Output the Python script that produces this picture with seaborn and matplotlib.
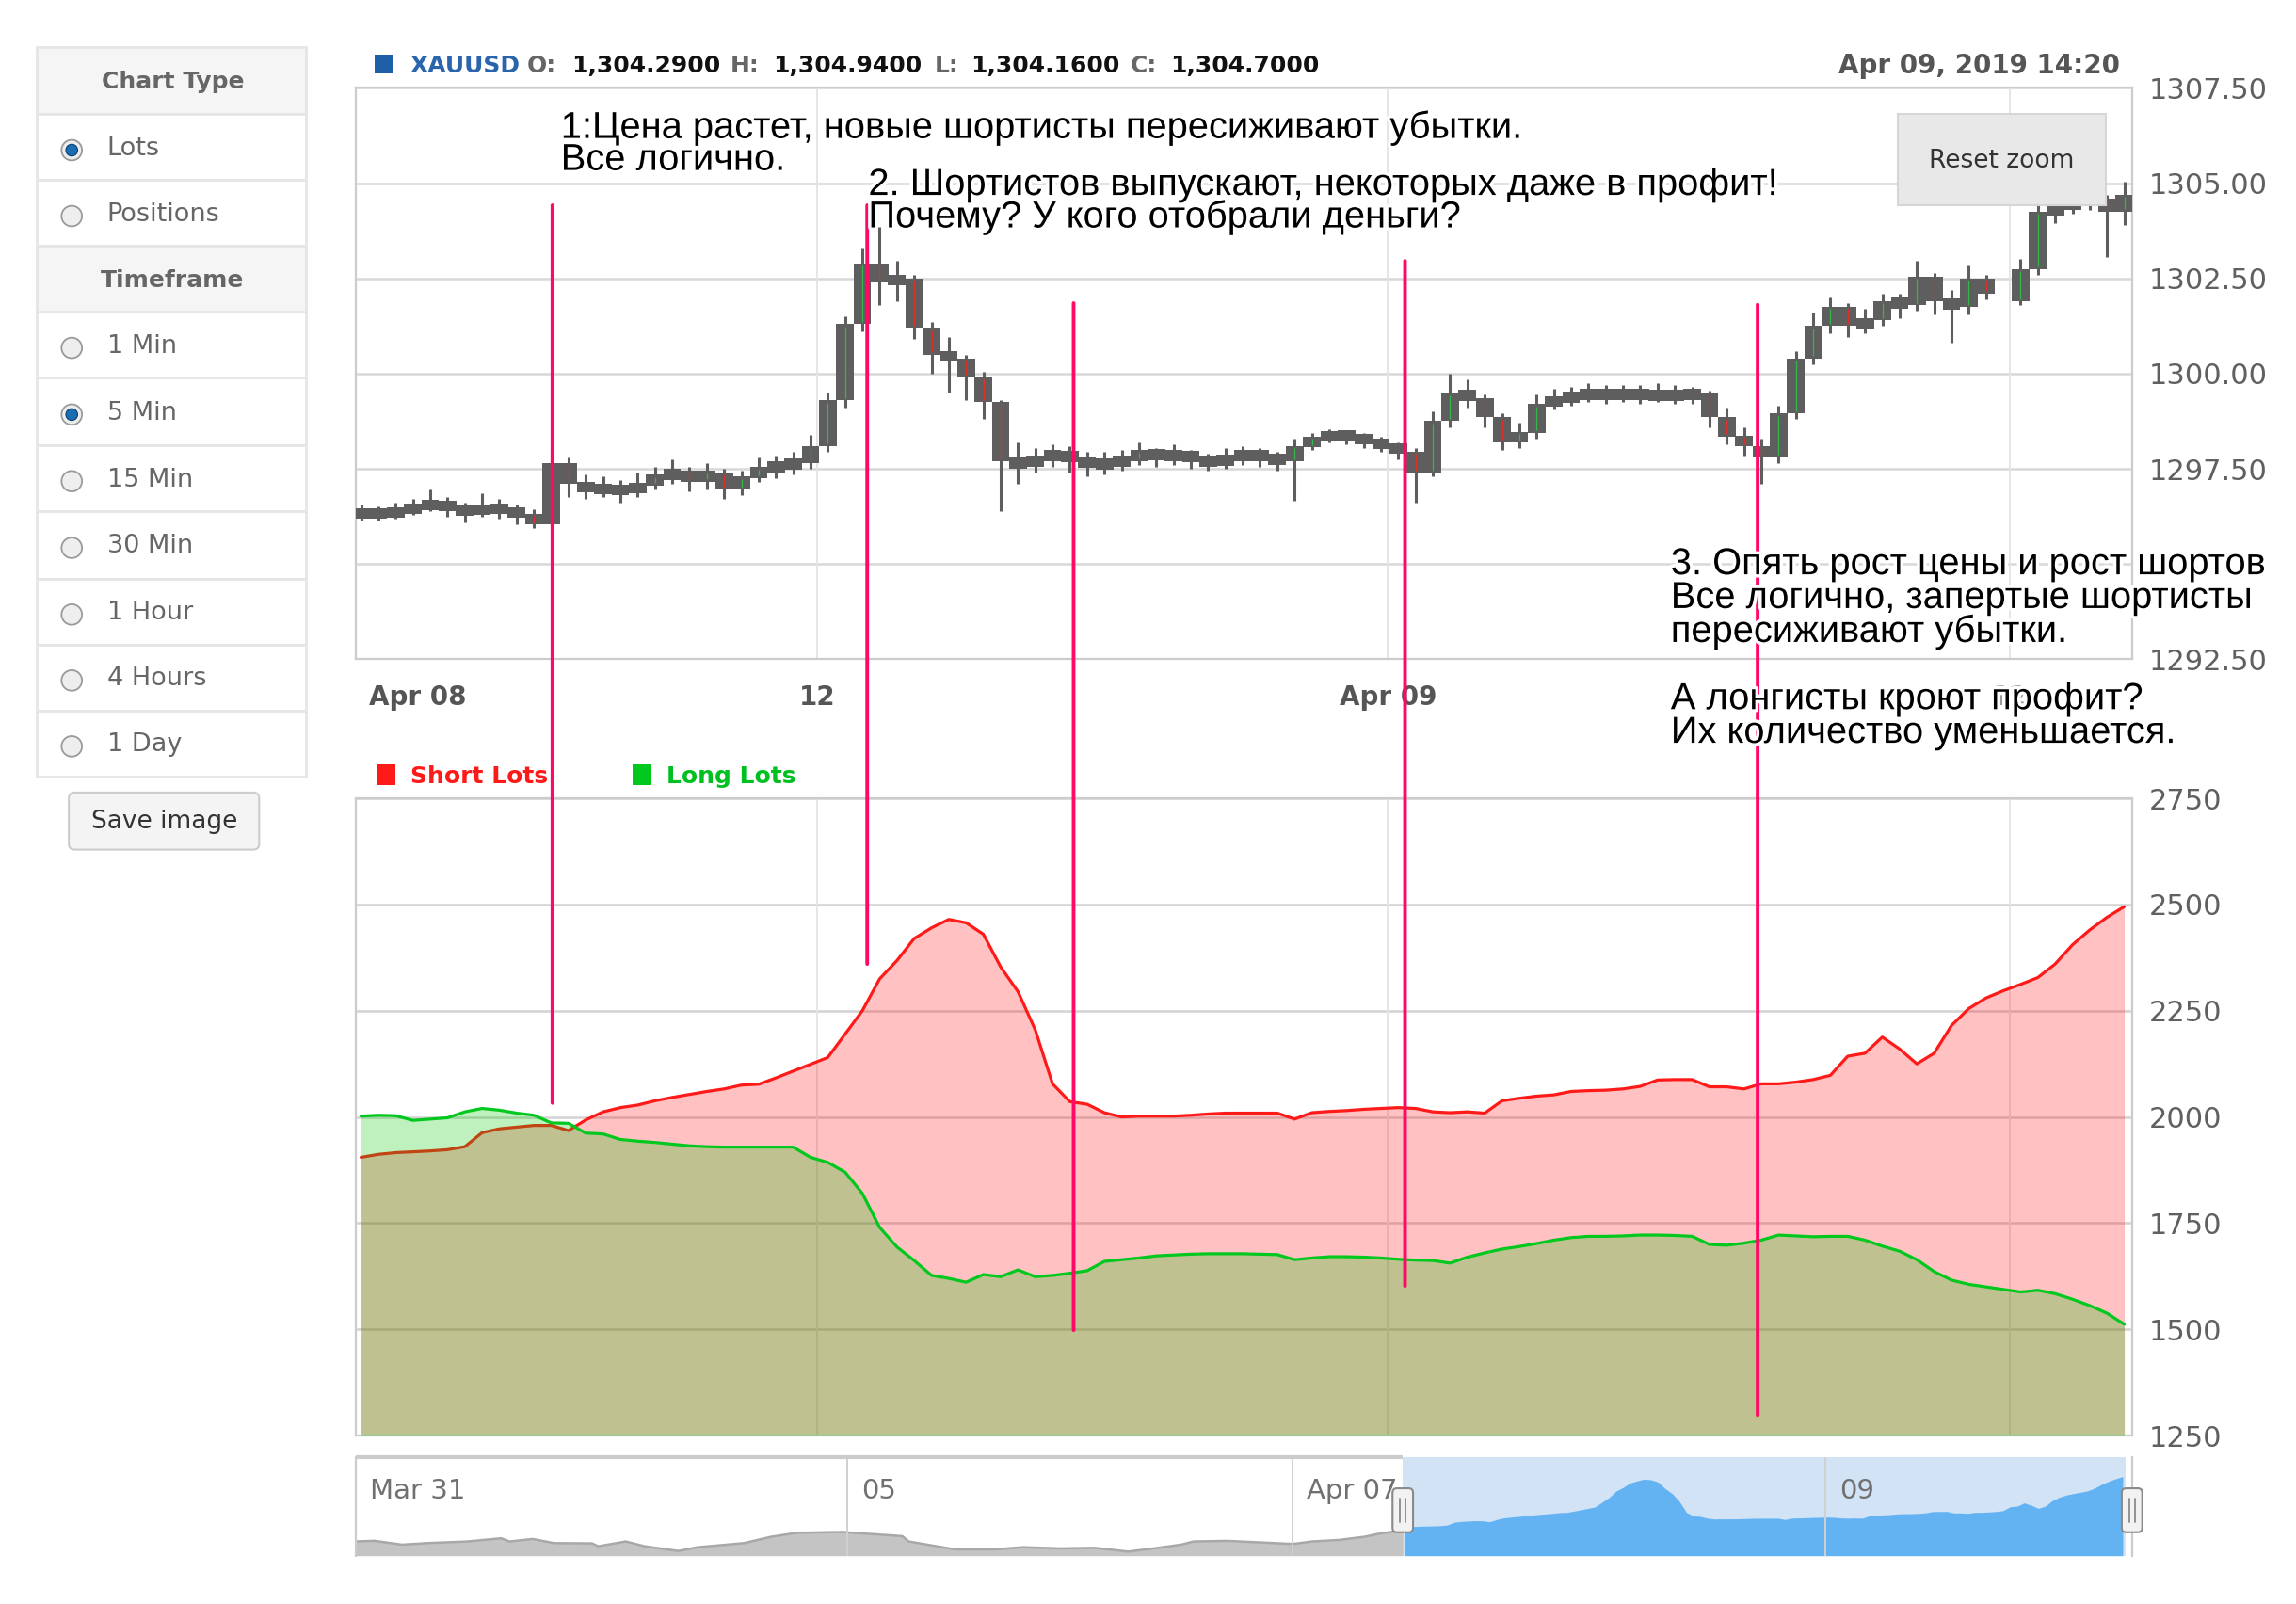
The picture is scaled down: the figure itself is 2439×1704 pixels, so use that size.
import numpy as np
import pandas as pd
import matplotlib.pyplot as plt
import matplotlib.patches as mpatches
import matplotlib.patheffects as pe
import matplotlib.transforms as mtransforms
import seaborn as sns

sns.set_style('white')
plt.rcParams['font.family'] = ['DejaVu Sans']
note_font = ['Liberation Sans', 'DejaVu Sans']
nan = np.nan

# ---- XAUUSD 20 min bars, Apr 08 03:06 -> Apr 09 14:20 (trading hours since Apr 08 00:00)
bar_open = [
    1296.30, 1296.35, 1296.30, 1296.40, 1296.50, 1296.60, 1296.45, 1296.35, 1296.50, 1296.40,
    1296.30, 1296.05, 1297.65, 1297.10, 1296.95, 1297.00, 1296.90, 1297.10, 1297.30, 1297.40,
    1297.20, 1297.40, 1296.95, 1297.30, 1297.50, 1297.60, 1297.65, 1298.10, 1299.30, 1301.30,
    1302.90, 1302.40, 1302.50, 1301.20, 1300.50, 1300.40, 1299.90, 1299.25, 1297.70, 1297.60,
    1297.80, 1297.90, 1297.75, 1297.60, 1297.65, 1297.75, 1297.95, 1297.80, 1297.90, 1297.75,
    1297.65, 1297.80, 1297.90, 1297.80, 1297.70, 1298.10, 1298.30, 1298.40, 1298.35, 1298.20,
    1298.10, 1297.95, 1297.40, 1298.75, 1299.50, 1299.35, 1298.85, 1298.20, 1298.45, 1299.20,
    1299.35, 1299.40, 1299.50, 1299.40, 1299.50, 1299.40, 1299.45, 1299.40, 1299.50, 1298.85,
    1298.35, 1298.10, 1297.80, 1298.95, 1300.40, 1301.25, 1301.75, 1301.25, 1301.40, 1301.90,
    1301.80, 1302.55, 1301.90, 1301.75, 1302.50, nan, 1301.90, 1302.75, 1304.25, 1304.35,
    1304.50, 1304.60, 1304.25]
bar_high = [
    1296.55, 1296.50, 1296.60, 1296.70, 1296.95, 1296.75, 1296.60, 1296.85, 1296.70, 1296.55,
    1296.45, 1297.95, 1297.80, 1297.35, 1297.30, 1297.20, 1297.40, 1297.55, 1297.75, 1297.55,
    1297.65, 1297.50, 1297.45, 1297.80, 1297.85, 1297.95, 1298.40, 1299.50, 1301.50, 1303.30,
    1303.85, 1302.95, 1302.60, 1301.35, 1300.95, 1300.50, 1300.05, 1299.30, 1298.20, 1298.05,
    1298.15, 1298.10, 1297.95, 1297.95, 1298.00, 1298.20, 1298.05, 1298.15, 1298.00, 1297.90,
    1298.05, 1298.10, 1298.05, 1297.95, 1298.30, 1298.45, 1298.55, 1298.50, 1298.45, 1298.35,
    1298.20, 1298.05, 1299.00, 1300.00, 1299.85, 1299.45, 1298.95, 1298.70, 1299.45, 1299.60,
    1299.65, 1299.75, 1299.70, 1299.70, 1299.70, 1299.75, 1299.70, 1299.65, 1299.55, 1299.10,
    1298.60, 1298.30, 1299.15, 1300.60, 1301.60, 1302.00, 1301.85, 1301.70, 1302.10, 1302.10,
    1302.95, 1302.65, 1302.20, 1302.85, 1302.60, nan, 1303.00, 1304.55, 1304.70, 1304.75,
    1304.90, 1304.70, 1305.05]
bar_low = [
    1296.15, 1296.15, 1296.20, 1296.30, 1296.40, 1296.25, 1296.10, 1296.25, 1296.20, 1296.05,
    1295.95, 1296.00, 1296.75, 1296.70, 1296.75, 1296.60, 1296.75, 1296.95, 1297.10, 1296.90,
    1296.95, 1296.70, 1296.80, 1297.15, 1297.25, 1297.35, 1297.50, 1297.95, 1299.10, 1301.10,
    1301.80, 1301.90, 1300.90, 1300.00, 1299.50, 1299.30, 1298.80, 1296.40, 1297.10, 1297.40,
    1297.55, 1297.40, 1297.30, 1297.35, 1297.45, 1297.60, 1297.55, 1297.60, 1297.50, 1297.45,
    1297.50, 1297.60, 1297.55, 1297.45, 1296.65, 1298.00, 1298.20, 1298.15, 1298.05, 1297.95,
    1297.75, 1296.60, 1297.30, 1298.60, 1299.10, 1298.60, 1298.00, 1298.05, 1298.30, 1299.05,
    1299.15, 1299.25, 1299.20, 1299.25, 1299.20, 1299.25, 1299.20, 1299.20, 1298.60, 1298.15,
    1297.85, 1297.10, 1297.65, 1298.80, 1300.25, 1301.05, 1300.95, 1301.05, 1301.25, 1301.45,
    1301.65, 1301.55, 1300.80, 1301.55, 1301.95, nan, 1301.80, 1302.60, 1303.95, 1304.20,
    1304.30, 1303.05, 1303.90]
bar_close = [
    1296.35, 1296.30, 1296.40, 1296.50, 1296.60, 1296.45, 1296.35, 1296.50, 1296.40, 1296.30,
    1296.05, 1297.65, 1297.10, 1296.95, 1297.00, 1296.90, 1297.10, 1297.30, 1297.40, 1297.20,
    1297.40, 1296.95, 1297.30, 1297.50, 1297.60, 1297.65, 1298.10, 1299.30, 1301.30, 1302.90,
    1302.40, 1302.50, 1301.20, 1300.50, 1300.40, 1299.90, 1299.25, 1297.70, 1297.60, 1297.80,
    1297.90, 1297.75, 1297.60, 1297.65, 1297.75, 1297.95, 1297.80, 1297.90, 1297.75, 1297.65,
    1297.80, 1297.90, 1297.80, 1297.70, 1298.10, 1298.30, 1298.40, 1298.35, 1298.20, 1298.10,
    1297.95, 1297.40, 1298.75, 1299.50, 1299.35, 1298.85, 1298.20, 1298.45, 1299.20, 1299.35,
    1299.40, 1299.50, 1299.40, 1299.50, 1299.40, 1299.45, 1299.40, 1299.50, 1298.85, 1298.35,
    1298.10, 1297.80, 1298.95, 1300.40, 1301.25, 1301.75, 1301.25, 1301.40, 1301.90, 1301.80,
    1302.55, 1301.90, 1301.75, 1302.50, 1302.10, nan, 1302.75, 1304.25, 1304.35, 1304.50,
    1304.60, 1304.25, 1304.70]

short_lots = [
    1905, 1912, 1916, 1918, 1920, 1923, 1930, 1963, 1972, 1976,
    1980, 1980, 1968, 1993, 2012, 2022, 2028, 2038, 2046, 2053,
    2060, 2066, 2075, 2077, 2092, 2108, 2124, 2140, 2195, 2250,
    2325, 2368, 2420, 2445, 2465, 2457, 2430, 2353, 2295, 2205,
    2078, 2036, 2030, 2010, 2000, 2002, 2002, 2002, 2004, 2007,
    2009, 2009, 2009, 2009, 1995, 2010, 2013, 2015, 2018, 2020,
    2022, 2020, 2012, 2010, 2012, 2009, 2038, 2044, 2049, 2052,
    2060, 2062, 2063, 2066, 2072, 2087, 2088, 2088, 2071, 2071,
    2066, 2078, 2078, 2082, 2088, 2098, 2143, 2150, 2188, 2160,
    2125, 2150, 2215, 2255, 2280, 2297, 2312, 2328, 2360, 2405,
    2440, 2470, 2495]
long_lots = [
    2002, 2004, 2003, 1992, 1995, 1998, 2012, 2020, 2016, 2009,
    2004, 1986, 1985, 1962, 1960, 1947, 1943, 1940, 1936, 1932,
    1930, 1929, 1929, 1929, 1929, 1929, 1905, 1893, 1870, 1820,
    1740, 1694, 1662, 1627, 1620, 1611, 1629, 1624, 1640, 1624,
    1627, 1632, 1638, 1660, 1664, 1668, 1673, 1675, 1677, 1678,
    1678, 1678, 1677, 1676, 1664, 1668, 1671, 1671, 1670, 1668,
    1665, 1663, 1662, 1656, 1670, 1680, 1689, 1695, 1702, 1710,
    1716, 1719, 1719, 1720, 1722, 1722, 1721, 1719, 1700, 1698,
    1703, 1710, 1722, 1720, 1718, 1719, 1719, 1710, 1696, 1684,
    1664, 1636, 1616, 1606, 1600, 1594, 1588, 1592, 1584, 1571,
    1556, 1538, 1512]

# navigator history (short lots, before the zoomed window)
nav_hist_hours = [-46.5, -45.6, -44.3, -43.1, -41.2, -39.6, -39.2, -38.1, -37.1, -35.3,
                  -35.0, -33.7, -32.8, -31.2, -30.3, -28.1, -26.8, -25.6, -23.4, -23.1,
                  -20.6, -20.3, -18.1, -16.2, -14.9, -13.1, -11.5, -9.9, -8.7, -7.4,
                  -6.8, -5.2, -4.6, -2.1, -1.2, 0.1, 1.3, 2.0, 3.1]
nav_hist_lots = [1739, 1747, 1702, 1720, 1739, 1776, 1739, 1768, 1720, 1717,
                 1683, 1739, 1683, 1628, 1672, 1720, 1794, 1840, 1850, 1843,
                 1801, 1739, 1647, 1647, 1672, 1658, 1665, 1621, 1658, 1702,
                 1739, 1746, 1739, 1710, 1739, 1757, 1794, 1831, 1868]

price_ticks = [1292.5, 1295.0, 1297.5, 1300.0, 1302.5, 1305.0, 1307.5]
lots_ticks = [1250, 1500, 1750, 2000, 2250, 2500, 2750]
time_ticks = [3.35, 12, 23, 35]
time_labels = ['Apr 08', '12', 'Apr 09', '12']
nav_ticks = [-23.2, -2.1, 23.1]
nav_labels = ['05', 'Apr 07', '09']

marker_hours = [6.89, 12.96, 16.94, 23.33, 30.13]
marker_price_top = [1304.42, 1304.42, 1301.85, 1302.96, 1301.81]
marker_lots_bottom = [2033, 2360, 1498, 1602, 1298]

bars = pd.DataFrame({'open': bar_open, 'high': bar_high, 'low': bar_low,
                     'close': bar_close, 'short': short_lots, 'long': long_lots})
bars['hour'] = 3.2 + np.arange(len(bars)) / 3

x_range = (3.1, 37.35)

fig = plt.figure(figsize=(24.39, 17.04), dpi=100)
ax_p = fig.add_axes([0.1550, 0.5890, 0.7736, 0.3562])
ax_l = fig.add_axes([0.1550, 0.1050, 0.7736, 0.3973])
ax_n = fig.add_axes([0.1550, 0.0301, 0.7736, 0.0612])

# ---- price panel (dense gray candles)
ok = bars.dropna(subset=['close'])
candle_gray = '#5e5e5e'
ax_p.vlines(ok['hour'], ok['low'], ok['high'], color=candle_gray, lw=2.2, zorder=3)
mid = (ok['open'] + ok['close']) / 2
half = np.maximum((ok['close'] - ok['open']).abs() / 2, 0.14)
ax_p.bar(ok['hour'], 2 * half, bottom=mid - half, width=0.34, color=candle_gray, lw=0, zorder=3)
inner = (ok['close'] - ok['open']).abs() > 0.2
ax_p.vlines(ok['hour'][inner], (mid - half)[inner] + 0.06, (mid + half)[inner] - 0.06,
            colors=np.where(ok['close'][inner] >= ok['open'][inner], '#35b84a', '#e0302a'),
            lw=0.9, zorder=4)
for v in price_ticks:
    ax_p.axhline(v, color='#d8d8d8', lw=1.8, zorder=1)
for t in time_ticks[1:]:
    ax_p.axvline(t, color='#e4e4e4', lw=1.3, zorder=1)
ax_p.set_xlim(*x_range)
ax_p.set_ylim(1292.5, 1307.5)
ax_p.set_xticks(time_ticks)
ax_p.set_xticklabels(time_labels)
ax_p.set_yticks(price_ticks)
ax_p.set_yticklabels([f'{v:.2f}' if v != 1295.0 else '' for v in price_ticks])
ax_p.yaxis.tick_right()
ax_p.tick_params(axis='x', length=0, pad=19, labelsize=20, labelcolor='#555555')
ax_p.tick_params(axis='y', length=0, pad=13, labelsize=22, labelcolor='#606060')
for lab in ax_p.get_xticklabels():
    lab.set_fontweight('bold')
ax_p.get_xticklabels()[0].set_horizontalalignment('left')
ax_p.get_xticklabels()[3].set_color('#9a9a9a')

# ---- lots panel
ax_l.fill_between(bars['hour'], bars['short'], 1250, color='#ff1a1a', alpha=0.27, lw=0, zorder=2)
sns.lineplot(x=bars['hour'], y=bars['short'], ax=ax_l, color='#ff1a1a', lw=2.3, zorder=3)
ax_l.fill_between(bars['hour'], bars['long'], 1250, color='#00c800', alpha=0.25, lw=0, zorder=4)
sns.lineplot(x=bars['hour'], y=bars['long'], ax=ax_l, color='#00c81e', lw=2.3, zorder=5)
for v in lots_ticks:
    ax_l.axhline(v, color='#d3d3d3', lw=1.8, zorder=1)
for t in time_ticks[1:]:
    ax_l.axvline(t, color='#e4e4e4', lw=1.3, zorder=1)
ax_l.set_xlim(*x_range)
ax_l.set_ylim(1250, 2750)
ax_l.set_yticks(lots_ticks)
ax_l.set_yticklabels([str(v) for v in lots_ticks])
ax_l.set_xticks([])
ax_l.set_xlabel('')
ax_l.set_ylabel('')
ax_l.yaxis.tick_right()
ax_l.tick_params(axis='y', length=0, pad=13, labelsize=22, labelcolor='#606060')

for ax in (ax_p, ax_l):
    for s in ax.spines.values():
        s.set_color('#cccccc')
        s.set_linewidth(1.6)

# ---- navigator
nav_lim = (1573, 2716)
ax_n.axvspan(x_range[0], x_range[1], color='#d3e3f6', lw=0, zorder=0)
ax_n.fill_between(nav_hist_hours, nav_hist_lots, nav_lim[0], color='#c4c4c4', lw=0, zorder=1)
sns.lineplot(x=nav_hist_hours, y=nav_hist_lots, ax=ax_n, color='#a8a8a8', lw=1.8, zorder=2)
ax_n.fill_between(bars['hour'], bars['short'], nav_lim[0], color='#63b3f3', lw=0, zorder=1)
for t in nav_ticks:
    ax_n.axvline(t, color='#d0d0d0', lw=1.4, zorder=3)
lab_tr = mtransforms.offset_copy(ax_n.transData, fig=fig, x=15, y=0, units='dots')
ax_n.text(-46.48, 2327, 'Mar 31', transform=lab_tr, ha='left', va='center',
          color='#707070', fontsize=21, zorder=4)
for t, s in zip(nav_ticks, nav_labels):
    ax_n.text(t, 2327, s, transform=lab_tr, ha='left', va='center',
              color='#707070', fontsize=21, zorder=4)
ax_n.hlines(nav_lim[1], -46.48, x_range[0], color='#cccccc', lw=3, clip_on=False, zorder=5)
ax_n.set_xlim(-46.48, 37.64)
ax_n.set_ylim(*nav_lim)
ax_n.set_xticks([])
ax_n.set_yticks([])
ax_n.set_xlabel('')
ax_n.set_ylabel('')
for side in ('top', 'bottom'):
    ax_n.spines[side].set_visible(False)
for side in ('left', 'right'):
    ax_n.spines[side].set_color('#cccccc')
    ax_n.spines[side].set_linewidth(1.6)

# ---- pink marker lines linking price and lots panels
for t, top, bot in zip(marker_hours, marker_price_top, marker_lots_bottom):
    con = mpatches.ConnectionPatch(xyA=(t, top), coordsA=ax_p.transData,
                                   xyB=(t, bot), coordsB=ax_l.transData,
                                   color='#ff0866', lw=2.8, zorder=5)
    fig.add_artist(con)

# ---- page chrome (sidebar, header, buttons, notes) in screen-like coordinates
ui = fig.add_axes([0, 0, 1, 1], zorder=10)
ui.set_xlim(0, 1568)
ui.set_ylim(1095, 0)
ui.axis('off')
ui.patch.set_alpha(0)

row_names = ['Chart Type', 'Lots', 'Positions', 'Timeframe', '1 Min', '5 Min',
             '15 Min', '30 Min', '1 Hour', '4 Hours', '1 Day']
row_edges = [32, 78, 123, 168, 213, 258, 304, 349, 395, 440, 485, 530]
header_rows = ['Chart Type', 'Timeframe']
checked_rows = ['Lots', '5 Min']
for name, y0, y1 in zip(row_names, row_edges[:-1], row_edges[1:]):
    yc = (y0 + y1) / 2
    head = name in header_rows
    ui.add_patch(mpatches.Rectangle((25, y0), 184, y1 - y0, fc='#f5f5f5' if head else 'white',
                                    ec='#e6e6e6', lw=2))
    if head:
        ui.text(118, yc + 1, name, ha='center', va='center', fontsize=18,
                fontweight='bold', color='#666666')
    else:
        ui.add_patch(mpatches.Circle((49, yc + 2), 7, fc='#eeeeee', ec='#9a9a9a', lw=1.3))
        if name in checked_rows:
            ui.add_patch(mpatches.Circle((49, yc + 2), 4, fc='#1a6db3', ec='#0b3f70', lw=0.8))
        ui.text(73, yc + 1, name, ha='left', va='center', fontsize=19.5, color='#666666')

ui.add_patch(mpatches.FancyBboxPatch((47, 541), 130, 39, boxstyle='round,pad=0,rounding_size=4',
                                     fc='#f4f4f4', ec='#cccccc', lw=1.5))
ui.text(112, 561, 'Save image', ha='center', va='center', fontsize=19, color='#333333')

ui.add_patch(mpatches.Rectangle((1296, 78), 142, 62, fc='#e8e8e8', ec='#d6d6d6', lw=1.5))
ui.text(1367, 110, 'Reset zoom', ha='center', va='center', fontsize=19, color='#333333')

# header line
ui.add_patch(mpatches.Rectangle((256, 37), 13, 13, fc='#1f5fa8', lw=0))
head_parts = [(280, 'XAUUSD', '#2a64ad'), (360, 'O:', '#666666'), (390, '1,304.2900', '#111111'),
              (499, 'H:', '#666666'), (528, '1,304.9400', '#111111'), (638, 'L:', '#666666'),
              (663, '1,304.1600', '#111111'), (772, 'C:', '#666666'), (799, '1,304.7000', '#111111')]
for x, s, c in head_parts:
    ui.text(x, 45, s, ha='left', va='center', fontsize=18, fontweight='bold', color=c)
ui.text(1448, 45, 'Apr 09, 2019 14:20', ha='right', va='center', fontsize=20,
        fontweight='bold', color='#555555')

# legend
ui.add_patch(mpatches.Rectangle((257, 522), 13, 14, fc='#ff1a1a', lw=0))
ui.text(280, 530, 'Short Lots', ha='left', va='center', fontsize=18, fontweight='bold',
        color='#ff1a1a')
ui.add_patch(mpatches.Rectangle((432, 522), 13, 14, fc='#00c81e', lw=0))
ui.text(455, 530, 'Long Lots', ha='left', va='center', fontsize=18, fontweight='bold',
        color='#00c020')

# navigator handles
for hx in (958, 1456):
    ui.add_patch(mpatches.FancyBboxPatch((hx - 7, 1016), 14, 30,
                                         boxstyle='round,pad=0,rounding_size=3',
                                         fc='#f2f2f2', ec='#8a8a8a', lw=1.5))
    ui.plot([hx - 2, hx - 2], [1023, 1039], color='#8a8a8a', lw=1.3)
    ui.plot([hx + 2, hx + 2], [1023, 1039], color='#8a8a8a', lw=1.3)

# notes
halo = [pe.withStroke(linewidth=5, foreground='white')]
notes = [
    (383, 87, '1:Цена растет, новые шортисты пересиживают убытки.'),
    (383, 109, 'Все логично.'),
    (593, 126, '2. Шортистов выпускают, некоторых даже в профит!'),
    (593, 148, 'Почему? У кого отобрали деньги?'),
    (1141, 385, '3. Опять рост цены и рост шортов'),
    (1141, 408, 'Все логично, запертые шортисты'),
    (1141, 431, 'пересиживают убытки.'),
    (1141, 477, 'А лонгисты кроют профит?'),
    (1141, 500, 'Их количество уменьшается.'),
]
for x, y, s in notes:
    ui.text(x, y, s, ha='left', va='center', fontsize=28.7, color='black',
            family=note_font, path_effects=halo)

fig.savefig('out.png', dpi=100)
